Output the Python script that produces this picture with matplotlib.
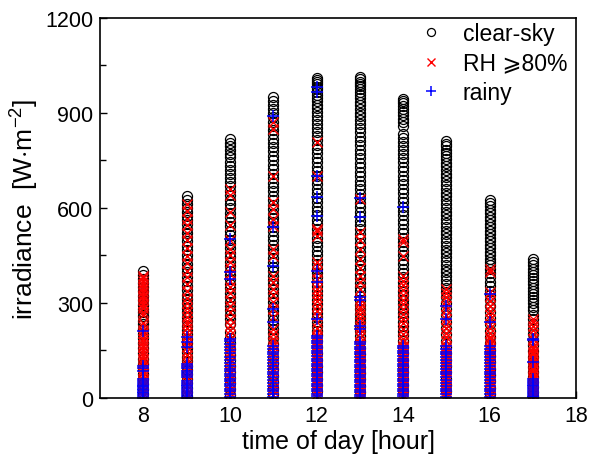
"""
Scatter of irradiance against time of day for three weather classes:
clear-sky, high humidity (RH >= 80%) and rainy hours.
"""

# IMPORTS
import matplotlib
matplotlib.use("Agg")
import matplotlib.pyplot as plt
import numpy as np
from matplotlib.ticker import MultipleLocator

# FONTS
plt.rcParams["font.family"] = ["Liberation Sans", "DejaVu Sans"]
plt.rcParams["mathtext.fontset"] = "custom"
plt.rcParams["mathtext.rm"] = "Liberation Sans"
plt.rcParams["mathtext.it"] = "Liberation Sans:italic"
plt.rcParams["mathtext.bf"] = "Liberation Sans:bold"

# DATA (W m^-2, one list per hour 8..17)
hours = [8, 9, 10, 11, 12, 13, 14, 15, 16, 17]

clear_sky = [
    [401, 389, 376, 363, 350, 336, 322, 308, 294, 281, 270, 258, 243, 232, 218, 203, 188, 172, 156, 140, 124, 108, 92, 76, 60, 44, 28, 12],
    [638, 626, 613, 600, 588, 574, 561, 548, 534, 520, 507, 494, 480, 466, 452, 438, 424, 410, 396, 382, 368, 354, 340, 326, 312, 298, 284, 270, 256, 242, 228, 214, 200, 186, 172, 158, 144, 130, 116, 102, 88, 74, 60, 46, 32, 18, 6],
    [818, 806, 795, 783, 771, 759, 746, 733, 720, 707, 694, 681, 668, 654, 640, 626, 612, 598, 584, 570, 556, 542, 528, 514, 500, 486, 472, 458, 444, 430, 416, 402, 388, 374, 360, 346, 332, 318, 304, 290, 276, 262, 248, 232, 208, 190, 172, 154, 136, 118, 100, 82, 64, 46, 28, 10],
    [950, 938, 925, 912, 899, 886, 872, 858, 845, 832, 818, 805, 791, 778, 764, 750, 736, 722, 708, 694, 680, 666, 652, 638, 624, 610, 596, 582, 568, 554, 540, 526, 512, 498, 484, 470, 456, 442, 428, 414, 400, 386, 372, 358, 344, 330, 316, 302, 288, 274, 260, 246, 232, 218, 204, 188, 170, 150, 130, 110, 90, 70, 50, 30, 12],
    [1010, 1004, 997, 990, 982, 974, 965, 956, 946, 936, 925, 914, 902, 890, 878, 866, 853, 840, 827, 814, 800, 786, 772, 758, 744, 730, 716, 702, 688, 674, 660, 646, 632, 618, 604, 590, 576, 562, 548, 534, 520, 506, 492, 478, 464, 450, 436, 422, 408, 394, 380, 366, 352, 338, 324, 310, 296, 282, 268, 254, 240, 226, 212, 198, 180, 160, 140, 120, 100, 80, 60, 40, 20],
    [1012, 1006, 999, 992, 984, 975, 966, 956, 946, 935, 924, 913, 901, 889, 877, 864, 851, 838, 825, 812, 798, 784, 770, 756, 742, 728, 714, 700, 686, 672, 658, 644, 630, 616, 602, 588, 574, 560, 546, 532, 518, 504, 490, 476, 462, 448, 434, 420, 406, 392, 378, 364, 350, 336, 322, 308, 294, 280, 266, 252, 238, 224, 210, 196, 178, 158, 138, 118, 98, 78, 58, 38, 18],
    [945, 938, 930, 921, 912, 902, 892, 881, 870, 858, 834, 822, 809, 796, 783, 770, 757, 744, 730, 716, 702, 688, 674, 660, 646, 632, 618, 604, 590, 576, 562, 548, 534, 520, 506, 492, 478, 464, 450, 436, 422, 408, 394, 380, 366, 352, 338, 324, 310, 296, 282, 268, 254, 240, 226, 212, 198, 180, 160, 140, 120, 100, 80, 60, 40, 20],
    [812, 803, 794, 784, 774, 764, 753, 742, 731, 720, 708, 696, 684, 672, 660, 648, 636, 624, 612, 600, 588, 576, 564, 552, 540, 528, 516, 504, 492, 480, 468, 456, 444, 432, 420, 408, 396, 384, 372, 360, 348, 334, 318, 300, 280, 260, 240, 220, 200, 180, 160, 140, 120, 100, 80, 60, 40, 20],
    [625, 615, 605, 594, 583, 572, 561, 550, 539, 528, 517, 506, 495, 484, 473, 462, 451, 440, 429, 418, 406, 394, 380, 366, 352, 338, 324, 308, 291, 272, 252, 232, 212, 192, 172, 152, 132, 112, 92, 72, 52, 32, 12],
    [440, 428, 418, 408, 398, 388, 378, 368, 358, 348, 338, 328, 318, 308, 298, 288, 276, 262, 248, 232, 216, 200, 184, 166, 148, 130, 112, 96, 82, 66, 50, 34, 18, 6],
]

rh80 = [
    [386, 377, 368, 360, 351, 343, 334, 326, 318, 309, 300, 292, 284, 272, 262, 236, 226, 214, 204, 195, 186, 177, 168, 160, 151, 142, 133, 124, 115, 106, 97, 88, 79, 70, 61, 52, 43, 34, 25, 16, 7],
    [612, 591, 566, 545, 520, 497, 472, 448, 426, 400, 382, 360, 338, 316, 298, 284, 270, 256, 244, 232, 220, 208, 196, 184, 172, 160, 148, 136, 124, 112, 100, 88, 76, 64, 52, 40, 28, 16, 5],
    [660, 642, 587, 545, 500, 471, 450, 430, 410, 390, 370, 350, 330, 310, 290, 270, 250, 230, 214, 198, 182, 170, 158, 146, 134, 122, 110, 98, 86, 74, 62, 50, 38, 26, 14, 4],
    [871, 848, 700, 620, 597, 565, 543, 470, 448, 385, 365, 345, 325, 303, 281, 255, 218, 200, 186, 176, 164, 152, 140, 128, 116, 104, 92, 80, 68, 56, 44, 32, 20, 8],
    [808, 701, 533, 527, 512, 429, 417, 398, 376, 360, 345, 330, 317, 305, 290, 275, 259, 240, 222, 205, 196, 188, 180, 172, 164, 156, 148, 140, 132, 124, 116, 108, 100, 92, 84, 76, 68, 60, 52, 44, 36, 28, 20, 12, 4],
    [628, 524, 500, 470, 440, 410, 385, 366, 345, 313, 300, 288, 276, 264, 252, 240, 228, 216, 204, 192, 177, 170, 163, 156, 149, 142, 135, 128, 121, 114, 107, 100, 93, 86, 79, 72, 65, 58, 51, 44, 37, 30, 23, 16, 9, 3],
    [502, 492, 448, 385, 370, 355, 340, 325, 310, 295, 280, 265, 250, 235, 218, 200, 186, 175, 164, 157, 150, 143, 136, 129, 122, 115, 108, 101, 94, 87, 80, 73, 66, 59, 52, 45, 38, 31, 24, 17, 10, 3],
    [344, 330, 318, 305, 290, 276, 262, 248, 234, 220, 206, 192, 178, 164, 157, 150, 143, 136, 129, 122, 115, 108, 101, 94, 87, 80, 73, 66, 59, 52, 45, 38, 31, 24, 17, 10, 3],
    [407, 398, 335, 320, 305, 290, 275, 262, 248, 234, 220, 206, 193, 186, 176, 166, 158, 150, 142, 134, 126, 118, 110, 102, 94, 86, 78, 70, 62, 54, 46, 38, 30, 22, 14, 6],
    [249, 238, 226, 214, 200, 186, 170, 162, 154, 146, 138, 130, 122, 114, 106, 98, 90, 82, 74, 66, 58, 50, 42, 34, 26, 18, 10, 3],
]

rainy = [
    [212, 101, 93, 85, 60, 54, 48, 42, 38, 34, 29, 24, 19, 14, 9, 4, 1],
    [193, 177, 161, 107, 100, 93, 86, 79, 72, 66, 54, 48, 42, 36, 30, 24, 18, 12, 6, 1],
    [502, 398, 376, 186, 178, 170, 160, 150, 140, 130, 120, 110, 100, 92, 84, 76, 68, 60, 52, 44, 36, 28, 20, 12, 4],
    [891, 540, 417, 281, 240, 164, 155, 146, 137, 128, 119, 110, 101, 92, 83, 74, 65, 56, 47, 38, 29, 20, 11, 3],
    [982, 966, 701, 634, 575, 401, 366, 249, 196, 188, 180, 172, 164, 156, 148, 140, 132, 124, 116, 108, 100, 92, 84, 76, 68, 60, 52, 44, 36, 28, 20, 12, 6],
    [631, 572, 319, 309, 227, 218, 177, 169, 161, 153, 145, 137, 129, 121, 113, 105, 97, 89, 81, 73, 65, 57, 49, 41, 33, 25, 17, 9, 3],
    [603, 164, 156, 148, 140, 132, 124, 116, 108, 100, 92, 84, 76, 68, 60, 52, 44, 36, 28, 20, 12, 5],
    [291, 249, 164, 155, 146, 137, 128, 119, 110, 101, 92, 83, 74, 65, 56, 47, 38, 29, 20, 11, 3],
    [328, 240, 164, 155, 146, 137, 128, 119, 110, 101, 92, 83, 74, 65, 56, 47, 38, 29, 20, 11, 3],
    [186, 183, 113, 60, 54, 48, 42, 36, 30, 24, 18, 12, 6, 2],
]

labels = ["clear-sky", "RH \u2a7e80%", "rainy"]


def flatten(per_hour):
    # one x entry per value, x being the hour of the list it came from
    xs = np.concatenate([np.full(len(v), h) for h, v in zip(hours, per_hour)])
    ys = np.concatenate([np.asarray(v, dtype=float) for v in per_hour])
    return xs, ys


# PLOT
fig = plt.figure(figsize=(5.96, 4.60), dpi=100)
ax = fig.add_axes([0.168, 0.133, 0.799, 0.826])

x, y = flatten(clear_sky)
ax.plot(x, y, "o", ms=7.2, mfc="none", mec="black", mew=0.9, label=labels[0])
x, y = flatten(rh80)
ax.plot(x, y, "x", ms=7.8, color="red", mew=1.0, label=labels[1])
x, y = flatten(rainy)
ax.plot(x, y, "+", ms=8.5, color="blue", mew=1.1, label=labels[2])

# AXES
ax.set_xlim(7, 18)
ax.set_ylim(0, 1200)
ax.xaxis.set_major_locator(MultipleLocator(2))
ax.yaxis.set_major_locator(MultipleLocator(300))
ax.yaxis.set_minor_locator(MultipleLocator(150))
ax.tick_params(which="both", direction="in", top=False, right=False,
               labelsize=15.5, width=1.0, pad=5)
ax.tick_params(which="major", length=5)
ax.tick_params(which="minor", length=4)
ax.tick_params(axis="x", which="minor", bottom=False)
for s in ax.spines.values():
    s.set_linewidth(1.2)

ax.set_xlabel("time of day [hour]", fontsize=18, labelpad=2)
ax.set_ylabel(r"irradiance  [W$\cdot$m$^{\mathregular{-2}}$]", fontsize=19, labelpad=3)

leg = ax.legend(loc="upper left", bbox_to_anchor=(0.67, 0.99), frameon=False,
                fontsize=16.5, handlelength=1.0, handletextpad=0.9, borderpad=0,
                borderaxespad=0, labelspacing=0.3, markerscale=0.8, numpoints=1)

fig.savefig("out.png", dpi=100)
